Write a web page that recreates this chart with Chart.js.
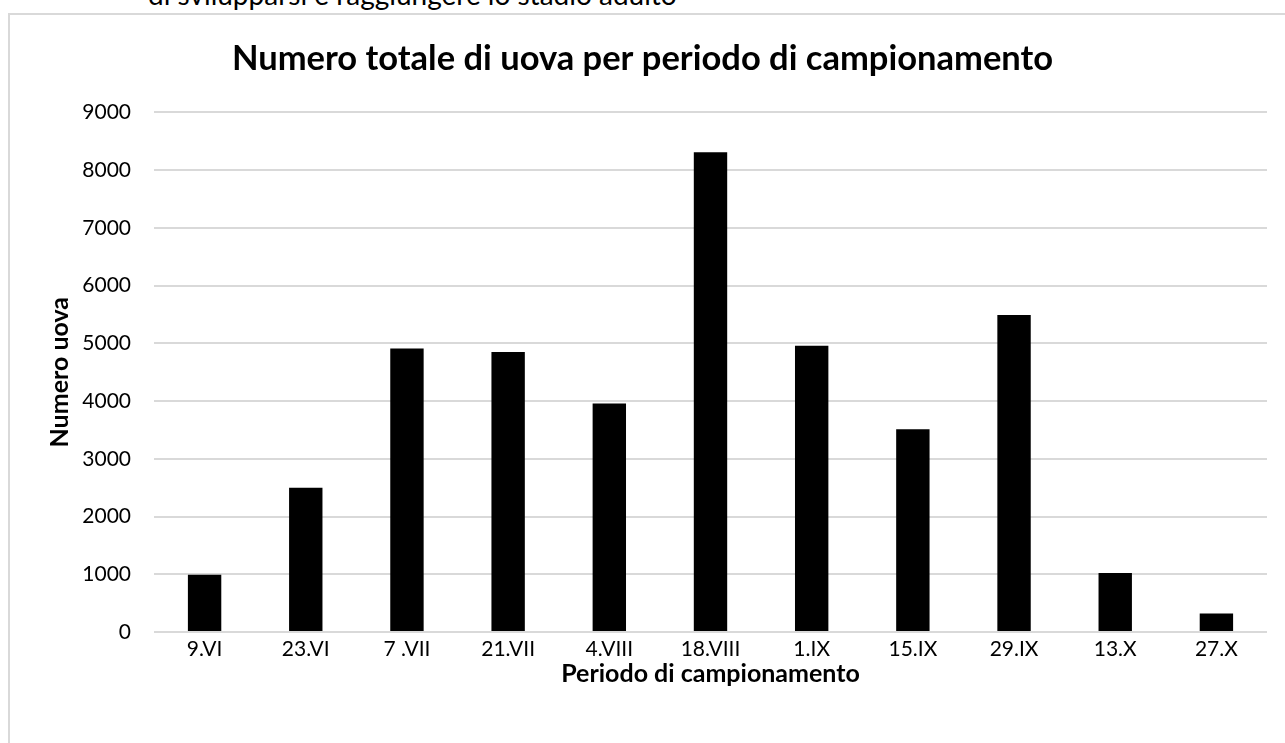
<!DOCTYPE html>
<html>
<head>
<meta charset="utf-8">
<script src="https://cdn.jsdelivr.net/npm/chart.js@4"></script>
<style>
  html, body { margin: 0; padding: 0; background: #fff; overflow: hidden; }
  body { width: 1285px; height: 743px; position: relative; }
  #above {
    position: absolute; left: 148px; top: -20px; line-height: 1;
    font-family: Lato, sans-serif; font-size: 28px; color: #000; white-space: nowrap;
  }
  #frame {
    position: absolute; left: 8px; top: 13px; width: 2000px; height: 2000px;
    border-left: 2px solid #d9d9d9; border-top: 2px solid #d9d9d9;
  }
  #wrap { position: absolute; left: 0; top: 0; width: 1285px; height: 743px; }
</style>
</head>
<body>
<div id="above">di svilupparsi e raggiungere lo stadio adulto</div>
<div id="frame"></div>
<div id="wrap"><canvas id="eggs"></canvas></div>

<script>
// sampling periods and total egg counts
const periods = ["9.VI", "23.VI", "7 .VII", "21.VII", "4.VIII", "18.VIII", "1.IX", "15.IX", "29.IX", "13.X", "27.X"];
const eggCounts = [990, 2500, 4910, 4850, 3960, 8310, 4960, 3510, 5490, 1020, 320];
const yTicks = [0, 1000, 2000, 3000, 4000, 5000, 6000, 7000, 8000, 9000];

const chartTitle = "Numero totale di uova per periodo di campionamento";
const xTitle = "Periodo di campionamento";
const yTitle = "Numero uova";

Chart.defaults.font.family = "Lato, sans-serif";
Chart.defaults.color = "#000";

new Chart(document.getElementById("eggs"), {
  type: "bar",
  data: {
    labels: periods,
    datasets: [{
      label: "Numero uova",
      data: eggCounts,
      backgroundColor: "#000",
      borderWidth: 0,
      categoryPercentage: 1,
      barPercentage: 0.33
    }]
  },
  options: {
    responsive: true,
    maintainAspectRatio: false,
    animation: false,
    layout: { padding: { left: 18, right: 18, top: 0, bottom: 0 } },
    plugins: {
      legend: { display: false },
      tooltip: { enabled: false },
      title: {
        display: true,
        text: chartTitle,
        font: { size: 34.5, weight: "bold" },
        padding: { top: 38, bottom: 33 }
      }
    },
    scales: {
      x: {
        grid: { display: false, drawTicks: false },
        border: { display: false },
        ticks: { font: { size: 21 }, padding: 5, maxRotation: 0 },
        title: {
          display: true,
          text: xTitle,
          font: { size: 25, weight: "bold" },
          padding: { top: 0, bottom: 54 }
        },
        afterFit: s => { s.height = 111; }
      },
      y: {
        min: 0,
        max: 9000,
        afterBuildTicks: s => { s.ticks = yTicks.map(v => ({ value: v })); },
        grid: { color: "#d9d9d9", lineWidth: 2, drawTicks: false },
        border: { display: false },
        ticks: { font: { size: 21 }, padding: 23, callback: v => String(v) },
        title: {
          display: true,
          text: yTitle,
          font: { size: 25, weight: "bold" },
          padding: { top: 27, bottom: 0 }
        },
        afterFit: s => { s.width = 136; }
      }
    }
  }
});
</script>
</body>
</html>
